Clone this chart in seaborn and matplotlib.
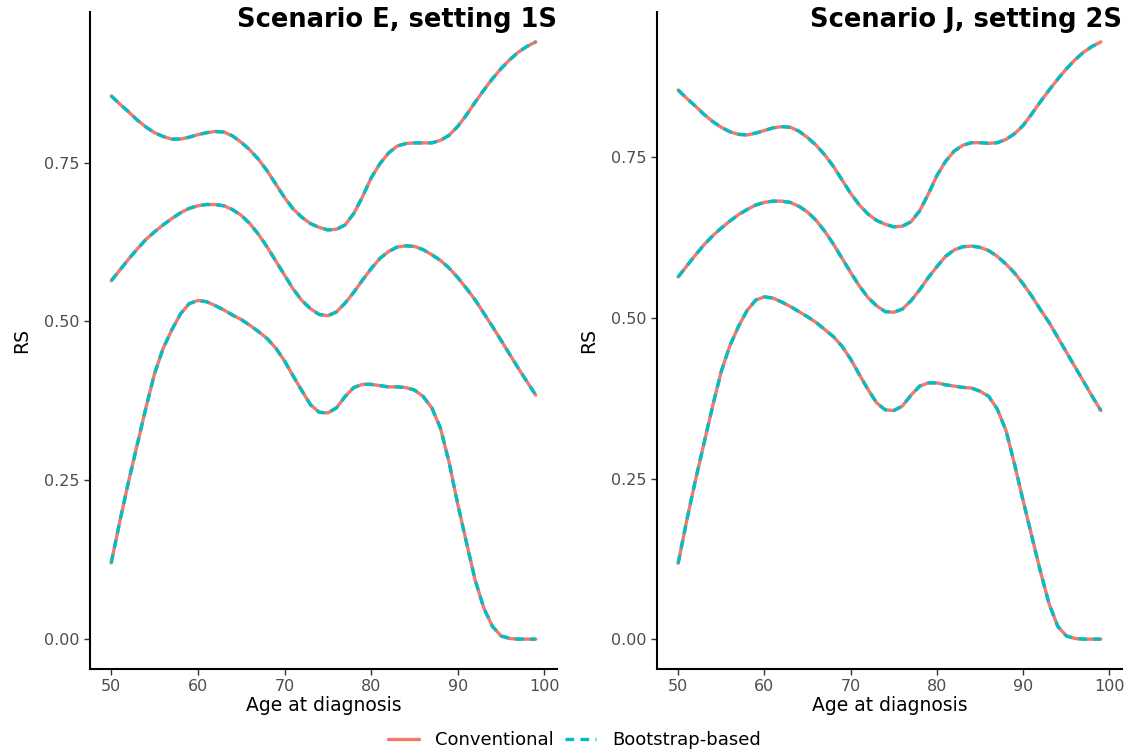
import numpy as np
import pandas as pd
import matplotlib
matplotlib.use("Agg")
import matplotlib.pyplot as plt
import seaborn as sns
from matplotlib.lines import Line2D

ages = list(range(50, 100))

# Panel 1: Scenario E, setting 1S
e_top = [.855, .842, .830, .817, .806, .797, .791, .787, .787, .790,
         .794, .797, .799, .798, .792, .782, .770, .755, .737, .716,
         .695, .677, .664, .654, .648, .644, .645, .652, .670, .696,
         .726, .748, .765, .776, .780, .781, .781, .781, .785, .793,
         .807, .825, .845, .864, .882, .898, .912, .924, .933, .940]
e_mid = [.564, .581, .598, .614, .629, .641, .652, .662, .671, .678,
         .682, .684, .684, .682, .676, .667, .654, .637, .617, .595,
         .573, .551, .533, .520, .511, .509, .515, .529, .546, .565,
         .583, .599, .610, .617, .619, .618, .613, .605, .596, .584,
         .569, .552, .534, .513, .492, .470, .448, .426, .405, .384]
e_low = [.120, .186, .248, .306, .364, .418, .458, .487, .512, .528,
         .533, .531, .525, .518, .510, .503, .494, .484, .473, .458,
         .438, .414, .391, .369, .357, .356, .364, .382, .396, .401,
         .401, .399, .397, .397, .396, .392, .382, .364, .332, .278,
         .212, .152, .093, .049, .020, .005, .001, .000, .000, .000]

# Panel 2: Scenario J, setting 2S
j_top = [.855, .842, .830, .817, .806, .797, .790, .786, .785, .788,
         .792, .796, .798, .797, .791, .781, .769, .754, .736, .715,
         .694, .676, .662, .652, .646, .642, .643, .650, .667, .693,
         .722, .744, .760, .769, .773, .773, .772, .773, .778, .787,
         .800, .818, .837, .855, .872, .888, .902, .914, .923, .930]
j_mid = [.564, .581, .598, .614, .628, .640, .651, .661, .669, .676,
         .680, .682, .682, .680, .674, .665, .652, .635, .615, .593,
         .571, .550, .532, .519, .510, .509, .514, .527, .544, .563,
         .580, .596, .606, .611, .612, .610, .605, .596, .584, .570,
         .553, .534, .513, .493, .470, .447, .424, .401, .378, .356]
j_low = [.118, .185, .247, .305, .363, .417, .457, .487, .512, .528,
         .533, .531, .525, .518, .510, .502, .493, .482, .471, .456,
         .436, .412, .389, .368, .357, .356, .363, .380, .394, .399,
         .399, .396, .394, .392, .391, .386, .378, .358, .325, .272,
         .215, .160, .105, .055, .020, .005, .001, .000, .000, .000]

methods = ["Conventional", "Bootstrap-based"]
titles = ["Scenario E, setting 1S", "Scenario J, setting 2S"]
panels = {titles[0]: [e_top, e_mid, e_low], titles[1]: [j_top, j_mid, j_low]}
y_ticks = [0, 0.25, 0.5, 0.75]
y_tick_labels = ["0.00", "0.25", "0.50", "0.75"]
x_ticks = [50, 60, 70, 80, 90, 100]

rows = []
for title, curves in panels.items():
    for ci, vals in enumerate(curves):
        for m in methods:
            for a, v in zip(ages, vals):
                rows.append({"panel": title, "curve": ci, "method": m, "age": a, "RS": v})
df = pd.DataFrame(rows)

sns.set_style("ticks")
plt.rcParams["font.family"] = ["DejaVu Sans"]

colors = {"Conventional": "#F8766D", "Bootstrap-based": "#00BFC4"}
LW = 2.4
DASH = (2.6, 1.9)

fig = plt.figure(figsize=(11.34, 7.52), dpi=100)
positions = [[90 / 1134, 1 - 669 / 752, 467 / 1134, 657 / 752],
             [657 / 1134, 1 - 669 / 752, 465 / 1134, 657 / 752]]

for pos, title in zip(positions, titles):
    ax = fig.add_axes(pos)
    sub = df[df["panel"] == title]
    conv = sub[sub["method"] == "Conventional"]
    boot = sub[sub["method"] == "Bootstrap-based"]
    sns.lineplot(data=conv, x="age", y="RS", units="curve", estimator=None,
                 color=colors["Conventional"], lw=LW, ax=ax, legend=False)
    n_conv = len(ax.lines)
    sns.lineplot(data=boot, x="age", y="RS", units="curve", estimator=None,
                 color=colors["Bootstrap-based"], lw=LW, ax=ax, legend=False)
    for ln in ax.lines[n_conv:]:
        ln.set_dashes(DASH)
    ax.margins(x=0.05, y=0.05)
    ax.set_xticks(x_ticks)
    ax.set_yticks(y_ticks)
    ax.set_yticklabels(y_tick_labels)
    ax.tick_params(axis="both", labelsize=11.5, colors="#333333", labelcolor="#4D4D4D",
                   length=4, width=1)
    sns.despine(ax=ax)
    for s in ["left", "bottom"]:
        ax.spines[s].set_linewidth(1.5)
        ax.spines[s].set_color("black")
    ax.set_xlabel("Age at diagnosis", fontsize=13.5, labelpad=1, color="black")
    ax.set_ylabel("RS", fontsize=13.5, labelpad=9, color="black")
    right_px = (pos[0] + pos[2])
    fig.text(right_px, 1 - 20 / 752, title, ha="right", va="center",
             fontsize=18.5, fontweight="bold", color="black")

handles = [Line2D([], [], color=colors["Conventional"], lw=LW),
           Line2D([], [], color=colors["Bootstrap-based"], lw=LW, dashes=DASH)]
leg = fig.legend(handles, methods, loc="center", bbox_to_anchor=(574.5 / 1134, 12 / 752),
                 ncol=2, frameon=False, fontsize=13, handlelength=1.7,
                 columnspacing=0.6, handletextpad=0.9)
for t in leg.get_texts():
    t.set_color("black")

fig.savefig("out.png", dpi=100)
